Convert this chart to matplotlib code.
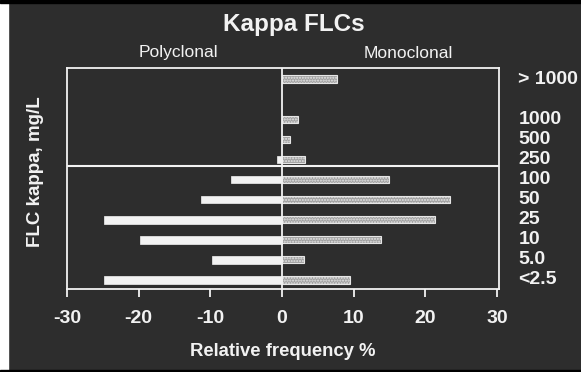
import matplotlib
matplotlib.use("Agg")
from matplotlib import pyplot as plt
from matplotlib.patches import Rectangle

# 数据
categories = ["<2.5", "5.0", "10", "25", "50", "100", "250", "500", "1000", "> 1000"]
positions = [0, 1, 2, 3, 4, 5, 6, 7, 8, 10]
polyclonal = [-24.9, -9.8, -19.8, -24.8, -11.3, -7.1, -0.7, 0, 0, 0]
monoclonal = [9.5, 3.1, 13.8, 21.3, 23.4, 15.0, 3.2, 1.1, 2.2, 7.7]
x_ticks = [-30, -20, -10, 0, 10, 20, 30]
x_tick_labels = ["-30", "-20", "-10", "0", "10", "20", "30"]

plt.rcParams["font.family"] = ["Liberation Sans", "DejaVu Sans"]
plt.rcParams["axes.unicode_minus"] = False
plt.rcParams["hatch.color"] = "#6e6e6e"

bg = "#2d2d2d"
fg = "#f2f2f2"

fig = plt.figure(figsize=(5.81, 3.72), dpi=100, facecolor=bg)
ax = fig.add_axes([67 / 581, 1 - 289 / 372, 432 / 581, 221 / 372])
ax.set_facecolor(bg)

# 条形
ax.barh(positions, polyclonal, height=0.38, color=fg, edgecolor=fg, linewidth=0.5, zorder=3)
ax.barh(positions, monoclonal, height=0.36, color="#a0a0a0", edgecolor="#e6e6e6",
        linewidth=0.8, hatch="......", zorder=3)

ax.set_xlim(-30, 30.3)
ax.set_ylim(-0.45, 10.55)

# 中线和分隔线
ax.axvline(0, color=fg, lw=1.3, zorder=4)
ax.axhline(5.65, color=fg, lw=1.5, zorder=4)

for s in ax.spines.values():
    s.set_color(fg)
    s.set_linewidth(1.3)

ax.set_xticks(x_ticks)
ax.set_xticklabels(x_tick_labels, fontsize=14, fontweight="bold", color=fg)
ax.tick_params(axis="x", colors=fg, length=6, width=1.3, pad=9)
ax.set_yticks([])

# 右侧分类标签
for p, c in zip(positions, categories):
    ax.text(1.045, p, c, transform=ax.get_yaxis_transform(), ha="left", va="center",
            fontsize=14, fontweight="bold", color=fg)

fig.text(294 / 581, 1 - 24 / 372, "Kappa FLCs", ha="center", va="center",
         fontsize=17.5, fontweight="bold", color=fg)
fig.text(178 / 581, 1 - 53 / 372, "Polyclonal", ha="center", va="center", fontsize=12.5, color=fg)
fig.text(408 / 581, 1 - 53 / 372, "Monoclonal", ha="center", va="center", fontsize=12.5, color=fg)
fig.text(36 / 581, 1 - 172 / 372, "FLC kappa, mg/L", ha="center", va="center", rotation=90,
         fontsize=13.5, fontweight="bold", color=fg)
fig.text(283 / 581, 1 - 351 / 372, "Relative frequency %", ha="center", va="center",
         fontsize=13.3, fontweight="bold", color=fg)

# 扫描边缘
fig.patches.append(Rectangle((0, 0), 8 / 581, 1, transform=fig.transFigure, color="white", zorder=10))
fig.patches.append(Rectangle((0, 0), 1, 2 / 372, transform=fig.transFigure, color="black", zorder=10))
fig.patches.append(Rectangle((0, 1 - 3 / 372), 1, 3 / 372, transform=fig.transFigure, color="black", zorder=10))

plt.savefig("out.png", dpi=100, facecolor=bg)
